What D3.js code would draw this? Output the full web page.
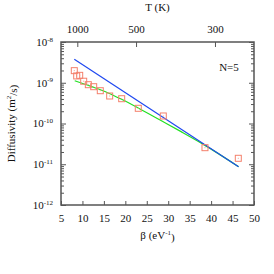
<!DOCTYPE html>
<html>
<head>
<meta charset="utf-8">
<script src="https://cdn.jsdelivr.net/npm/d3@7"></script>
<style>
  body { margin: 0; background: #fff; }
  svg text { font-family: "Liberation Serif", "DejaVu Serif", serif; fill: #111; }
</style>
</head>
<body>
<div id="chart"></div>
<script>
// measured diffusivity (squares)
const beta = [8.10, 8.66, 9.36, 10.29, 11.37, 12.62, 14.16, 16.35, 19.15, 23.02, 28.85, 38.57, 46.34];
const diffusivity = [1.98e-9, 1.47e-9, 1.52e-9, 1.09e-9, 8.96e-10, 8.0e-10, 6.38e-10, 4.73e-10, 4.06e-10, 2.36e-10, 1.53e-10, 2.55e-11, 1.40e-11];

// blue straight fit
const blueBeta = [8.1, 46.4];
const blueD = [3.76e-9, 8.7e-12];

// green curved fit
const greenBeta = [8.2, 12, 16, 19, 23, 28, 33, 38, 46.4];
const greenD = [1.12e-9, 8.13e-10, 5.62e-10, 3.98e-10, 2.40e-10, 1.23e-10, 6.31e-11, 3.16e-11, 8.7e-12];

const xTicks = [5, 10, 15, 20, 25, 30, 35, 40, 45, 50];
const yTicks = [1e-12, 1e-11, 1e-10, 1e-9, 1e-8];
const tempLabels = [1000, 500, 300];
const tempBeta = [8.8, 22.5, 40.9];

const width = 274;
const height = 274;
const margin = { top: 42, right: 20, bottom: 69, left: 61 };
const serif = "Liberation Serif";

const x = d3.scaleLinear().domain([5, 50]).range([margin.left, width - margin.right]);
const y = d3.scaleLog().domain([1e-12, 1e-8]).range([height - margin.bottom, margin.top]);

const svg = d3.select("#chart").append("svg")
  .attr("width", width)
  .attr("height", height)
  .attr("font-family", serif);

const minorY = [];
for (let e = -12; e < -8; e++) {
  for (let m = 2; m <= 9; m++) minorY.push(m * Math.pow(10, e));
}

const axisColor = "#555";

function styleAxis(g) {
  g.attr("font-family", serif);
  g.select(".domain").remove();
  g.selectAll("line").attr("stroke", axisColor).attr("stroke-width", 1);
  g.selectAll("text").attr("font-size", 11).attr("fill", "#111");
}

// bottom axis
svg.append("g")
  .attr("transform", `translate(0,${y.range()[0]})`)
  .call(d3.axisBottom(x).tickValues(xTicks).tickSize(-4).tickPadding(9).tickFormat(d3.format("d")))
  .call(styleAxis);

// top axis (temperature)
svg.append("g")
  .attr("transform", `translate(0,${y.range()[1]})`)
  .call(d3.axisTop(x).tickValues(tempBeta).tickSize(-5).tickPadding(9)
    .tickFormat((d, i) => tempLabels[i]))
  .call(styleAxis);

// left axis, major and minor
svg.append("g")
  .attr("transform", `translate(${x.range()[0]},0)`)
  .call(d3.axisLeft(y).tickValues(yTicks).tickSize(-5).tickFormat(""))
  .call(styleAxis);

svg.append("g")
  .attr("transform", `translate(${x.range()[0]},0)`)
  .call(d3.axisLeft(y).tickValues(minorY).tickSize(-3).tickFormat(""))
  .call(styleAxis);

// right axis, major and minor
svg.append("g")
  .attr("transform", `translate(${x.range()[1]},0)`)
  .call(d3.axisRight(y).tickValues(yTicks).tickSize(-5).tickFormat(""))
  .call(styleAxis);

svg.append("g")
  .attr("transform", `translate(${x.range()[1]},0)`)
  .call(d3.axisRight(y).tickValues(minorY).tickSize(-3).tickFormat(""))
  .call(styleAxis);

// y labels with superscripts
const yLab = svg.append("g").selectAll("text")
  .data(yTicks)
  .join("text")
  .attr("x", x.range()[0] - 8)
  .attr("y", d => y(d))
  .attr("dy", "0.35em")
  .attr("text-anchor", "end")
  .attr("font-size", 11);
yLab.append("tspan").text("10");
yLab.append("tspan")
  .attr("dy", "-0.6em")
  .attr("font-size", 7)
  .text(d => String(Math.round(Math.log10(d))));

// frame
svg.append("rect")
  .attr("x", x.range()[0])
  .attr("y", y.range()[1])
  .attr("width", x.range()[1] - x.range()[0])
  .attr("height", y.range()[0] - y.range()[1])
  .attr("fill", "none")
  .attr("stroke", axisColor)
  .attr("stroke-width", 1.5);

// titles
svg.append("text")
  .attr("x", (x.range()[0] + x.range()[1]) / 2)
  .attr("y", 11)
  .attr("text-anchor", "middle")
  .attr("font-size", 11)
  .text("T (K)");

const xt = svg.append("text")
  .attr("x", (x.range()[0] + x.range()[1]) / 2)
  .attr("y", 239)
  .attr("text-anchor", "middle")
  .attr("font-size", 11);
xt.append("tspan").text("β (eV");
xt.append("tspan").attr("dy", "-0.6em").attr("font-size", 7).text("-1");
xt.append("tspan").attr("dy", "0.6em").text(")");

const yt = svg.append("text")
  .attr("transform", `translate(15,${(y.range()[0] + y.range()[1]) / 2}) rotate(-90)`)
  .attr("text-anchor", "middle")
  .attr("font-size", 11);
yt.append("tspan").text("Diffusivity (m");
yt.append("tspan").attr("dy", "-0.6em").attr("font-size", 7).text("2");
yt.append("tspan").attr("dy", "0.6em").text("/s)");

svg.append("text")
  .attr("x", 229)
  .attr("y", 71)
  .attr("text-anchor", "middle")
  .attr("font-size", 11)
  .text("N=5");

// lines
const line = d3.line()
  .x(d => x(d[0]))
  .y(d => y(d[1]))
  .curve(d3.curveMonotoneX);

svg.append("path")
  .datum(greenBeta.map((b, i) => [b, greenD[i]]))
  .attr("d", line)
  .attr("fill", "none")
  .attr("stroke", "#22e022")
  .attr("stroke-width", 1.2);

svg.append("path")
  .datum(blueBeta.map((b, i) => [b, blueD[i]]))
  .attr("d", line)
  .attr("fill", "none")
  .attr("stroke", "#1f48f0")
  .attr("stroke-width", 1.2);

// squares
const pts = svg.append("g").selectAll("g")
  .data(beta.map((b, i) => [b, diffusivity[i]]))
  .join("g")
  .attr("transform", d => `translate(${x(d[0])},${y(d[1])})`);

pts.append("rect")
  .attr("x", -3)
  .attr("y", -3)
  .attr("width", 6)
  .attr("height", 6)
  .attr("fill", "none")
  .attr("stroke", "#f4806c")
  .attr("stroke-width", 1);

pts.append("rect")
  .attr("x", -0.5)
  .attr("y", -0.5)
  .attr("width", 1)
  .attr("height", 1)
  .attr("fill", "#f4a090");
</script>
</body>
</html>
